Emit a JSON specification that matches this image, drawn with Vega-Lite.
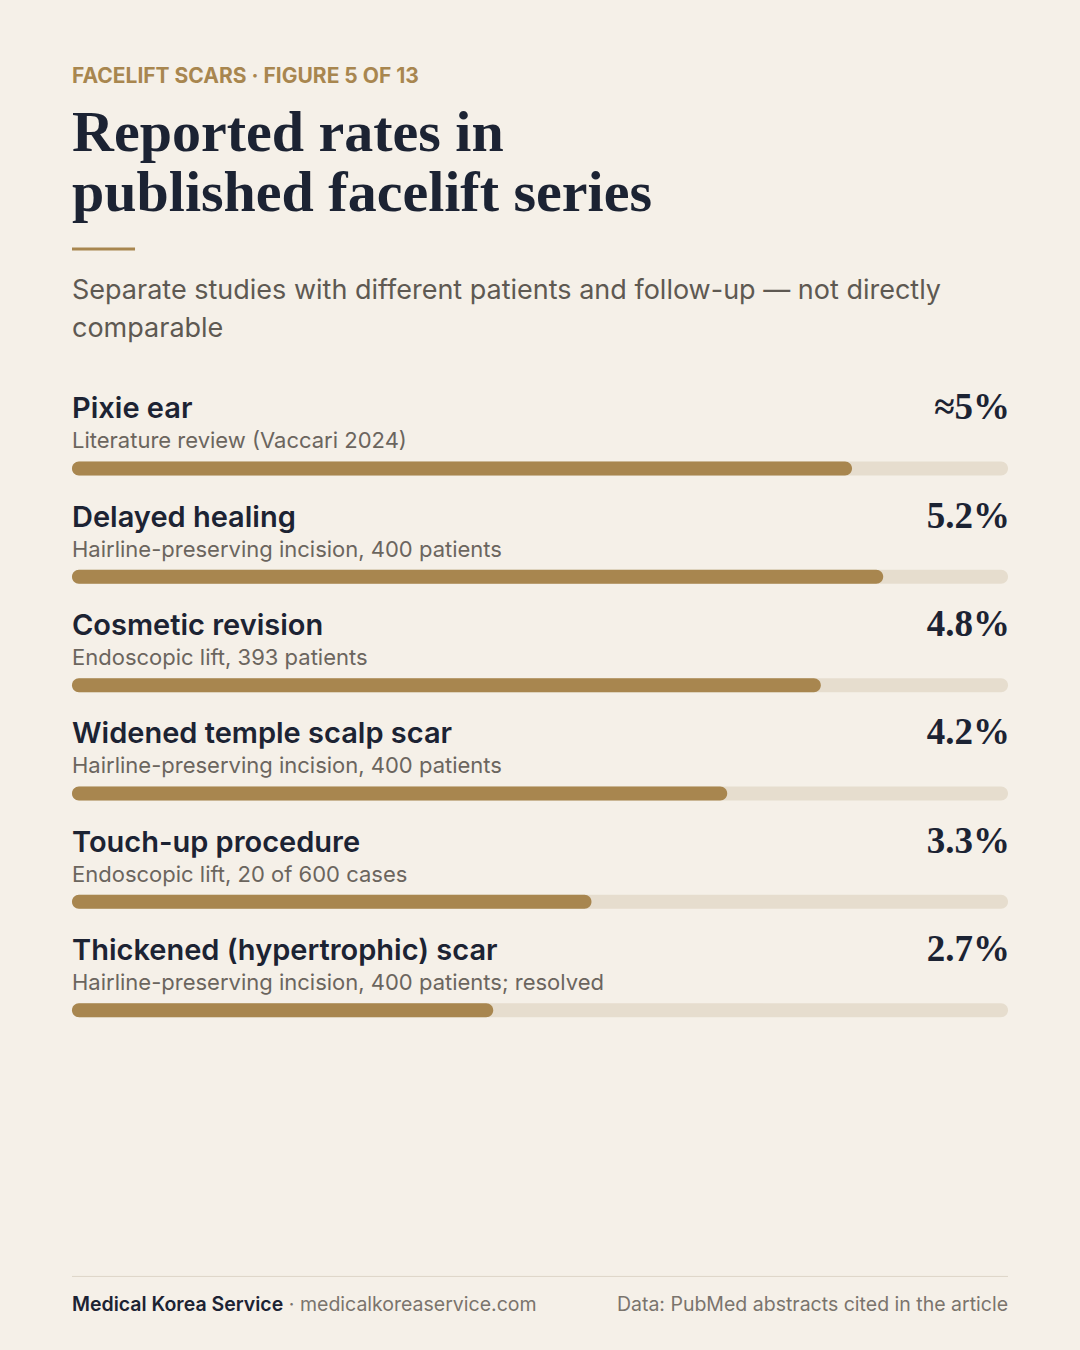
{
  "$schema": "https://vega.github.io/schema/vega-lite/v6.json",
  "width": 1080,
  "height": 1350,
  "autosize": {"type": "fit", "contains": "padding"},
  "padding": 0,
  "background": "#F5F0E8",
  "config": {"view": {"stroke": null}, "text": {"font": "Inter"}},
  "datasets": {
    "rates": [
      {"rank": 1, "issue": "Pixie ear", "source": "Literature review (Vaccari 2024)", "rate": 5.0, "label": "≈5%"},
      {"rank": 2, "issue": "Delayed healing", "source": "Hairline-preserving incision, 400 patients", "rate": 5.2, "label": "5.2%"},
      {"rank": 3, "issue": "Cosmetic revision", "source": "Endoscopic lift, 393 patients", "rate": 4.8, "label": "4.8%"},
      {"rank": 4, "issue": "Widened temple scalp scar", "source": "Hairline-preserving incision, 400 patients", "rate": 4.2, "label": "4.2%"},
      {"rank": 5, "issue": "Touch-up procedure", "source": "Endoscopic lift, 20 of 600 cases", "rate": 3.33, "label": "3.3%"},
      {"rank": 6, "issue": "Thickened (hypertrophic) scar", "source": "Hairline-preserving incision, 400 patients; resolved", "rate": 2.7, "label": "2.7%"}
    ],
    "blank": [{"k": 1}]
  },
  "layer": [
    {
      "data": {"name": "rates"},
      "mark": {"type": "bar", "orient": "horizontal", "size": 14, "cornerRadius": 7, "color": "#E6DDCE"},
      "encoding": {
        "x": {"datum": 0, "type": "quantitative", "axis": null, "scale": {"domain": [0, 6], "range": [72, 1008], "nice": false, "zero": false}},
        "x2": {"datum": 6},
        "y": {"field": "rank", "type": "quantitative", "axis": null, "scale": {"domain": [-3.278, 9.091], "range": [0, 1350], "nice": false, "zero": false}}
      }
    },
    {
      "data": {"name": "rates"},
      "mark": {"type": "bar", "orient": "horizontal", "size": 14, "cornerRadius": 7, "color": "#A8864F"},
      "encoding": {
        "x": {"field": "rate", "type": "quantitative", "axis": null, "scale": {"domain": [0, 6], "range": [72, 1008], "nice": false, "zero": false}},
        "x2": {"datum": 0},
        "y": {"field": "rank", "type": "quantitative", "axis": null, "scale": {"domain": [-3.278, 9.091], "range": [0, 1350], "nice": false, "zero": false}}
      }
    },
    {
      "data": {"name": "rates"},
      "mark": {"type": "text", "align": "left", "baseline": "alphabetic", "dy": -50, "fontSize": 29, "fontWeight": 600, "color": "#1C2333"},
      "encoding": {
        "x": {"datum": 0, "type": "quantitative", "axis": null, "scale": {"domain": [0, 6], "range": [72, 1008], "nice": false, "zero": false}},
        "y": {"field": "rank", "type": "quantitative", "axis": null, "scale": {"domain": [-3.278, 9.091], "range": [0, 1350], "nice": false, "zero": false}},
        "text": {"field": "issue", "type": "nominal"}
      }
    },
    {
      "data": {"name": "rates"},
      "mark": {"type": "text", "align": "left", "baseline": "alphabetic", "dy": -20, "fontSize": 22, "color": "#6B655E"},
      "encoding": {
        "x": {"datum": 0, "type": "quantitative", "axis": null, "scale": {"domain": [0, 6], "range": [72, 1008], "nice": false, "zero": false}},
        "y": {"field": "rank", "type": "quantitative", "axis": null, "scale": {"domain": [-3.278, 9.091], "range": [0, 1350], "nice": false, "zero": false}},
        "text": {"field": "source", "type": "nominal"}
      }
    },
    {
      "data": {"name": "rates"},
      "mark": {"type": "text", "align": "right", "baseline": "alphabetic", "dx": 2, "dy": -49, "fontSize": 37, "fontWeight": "bold", "font": "Liberation Serif", "color": "#1C2333"},
      "encoding": {
        "x": {"datum": 6, "type": "quantitative", "axis": null, "scale": {"domain": [0, 6], "range": [72, 1008], "nice": false, "zero": false}},
        "y": {"field": "rank", "type": "quantitative", "axis": null, "scale": {"domain": [-3.278, 9.091], "range": [0, 1350], "nice": false, "zero": false}},
        "text": {"field": "label", "type": "nominal"}
      }
    },
    {
      "data": {"name": "blank"},
      "mark": {"type": "text", "align": "left", "baseline": "alphabetic", "fontSize": 21, "fontWeight": 700, "color": "#A8864F", "text": "FACELIFT SCARS · FIGURE 5 OF 13"},
      "encoding": {
        "x": {"datum": 0, "type": "quantitative", "axis": null, "scale": {"domain": [0, 6], "range": [72, 1008], "nice": false, "zero": false}},
        "y": {"datum": -2.556, "type": "quantitative", "axis": null, "scale": {"domain": [-3.278, 9.091], "range": [0, 1350], "nice": false, "zero": false}}
      }
    },
    {
      "data": {"name": "blank"},
      "mark": {"type": "text", "align": "left", "baseline": "alphabetic", "fontSize": 58, "fontWeight": "bold", "font": "Liberation Serif", "lineHeight": 60, "color": "#1C2333", "text": ["Reported rates in", "published facelift series"]},
      "encoding": {
        "x": {"datum": 0, "type": "quantitative", "axis": null, "scale": {"domain": [0, 6], "range": [72, 1008], "nice": false, "zero": false}},
        "y": {"datum": -1.93, "type": "quantitative", "axis": null, "scale": {"domain": [-3.278, 9.091], "range": [0, 1350], "nice": false, "zero": false}}
      }
    },
    {
      "data": {"name": "blank"},
      "mark": {"type": "rule", "strokeWidth": 3, "color": "#A8864F"},
      "encoding": {
        "x": {"datum": 0, "type": "quantitative", "axis": null, "scale": {"domain": [0, 6], "range": [72, 1008], "nice": false, "zero": false}},
        "x2": {"datum": 0.404},
        "y": {"datum": -1.0249, "type": "quantitative", "axis": null, "scale": {"domain": [-3.278, 9.091], "range": [0, 1350], "nice": false, "zero": false}}
      }
    },
    {
      "data": {"name": "blank"},
      "mark": {"type": "text", "align": "left", "baseline": "alphabetic", "fontSize": 27, "lineHeight": 38, "color": "#5E5952", "text": ["Separate studies with different patients and follow-up — not directly", "comparable"]},
      "encoding": {
        "x": {"datum": 0, "type": "quantitative", "axis": null, "scale": {"domain": [0, 6], "range": [72, 1008], "nice": false, "zero": false}},
        "y": {"datum": -0.56, "type": "quantitative", "axis": null, "scale": {"domain": [-3.278, 9.091], "range": [0, 1350], "nice": false, "zero": false}}
      }
    },
    {
      "data": {"name": "blank"},
      "mark": {"type": "rule", "strokeWidth": 1, "color": "#DDD5C7"},
      "encoding": {
        "x": {"datum": 0, "type": "quantitative", "axis": null, "scale": {"domain": [0, 6], "range": [72, 1008], "nice": false, "zero": false}},
        "x2": {"datum": 6},
        "y": {"datum": 8.458, "type": "quantitative", "axis": null, "scale": {"domain": [-3.278, 9.091], "range": [0, 1350], "nice": false, "zero": false}}
      }
    },
    {
      "data": {"name": "blank"},
      "mark": {"type": "text", "align": "left", "baseline": "alphabetic", "fontSize": 19.5, "fontWeight": 600, "color": "#1C2333", "text": "Medical Korea Service"},
      "encoding": {
        "x": {"datum": 0, "type": "quantitative", "axis": null, "scale": {"domain": [0, 6], "range": [72, 1008], "nice": false, "zero": false}},
        "y": {"datum": 8.781, "type": "quantitative", "axis": null, "scale": {"domain": [-3.278, 9.091], "range": [0, 1350], "nice": false, "zero": false}}
      }
    },
    {
      "data": {"name": "blank"},
      "mark": {"type": "text", "align": "left", "baseline": "alphabetic", "fontSize": 19.5, "color": "#7A746D", "text": "· medicalkoreaservice.com"},
      "encoding": {
        "x": {"datum": 1.39, "type": "quantitative", "axis": null, "scale": {"domain": [0, 6], "range": [72, 1008], "nice": false, "zero": false}},
        "y": {"datum": 8.781, "type": "quantitative", "axis": null, "scale": {"domain": [-3.278, 9.091], "range": [0, 1350], "nice": false, "zero": false}}
      }
    },
    {
      "data": {"name": "blank"},
      "mark": {"type": "text", "align": "right", "baseline": "alphabetic", "fontSize": 19.5, "color": "#7A746D", "text": "Data: PubMed abstracts cited in the article"},
      "encoding": {
        "x": {"datum": 6, "type": "quantitative", "axis": null, "scale": {"domain": [0, 6], "range": [72, 1008], "nice": false, "zero": false}},
        "y": {"datum": 8.781, "type": "quantitative", "axis": null, "scale": {"domain": [-3.278, 9.091], "range": [0, 1350], "nice": false, "zero": false}}
      }
    }
  ]
}
